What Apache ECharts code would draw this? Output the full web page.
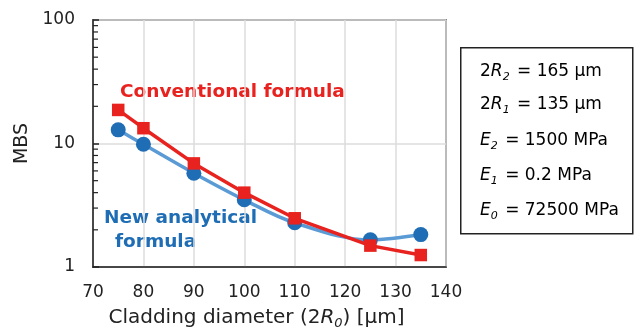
<!DOCTYPE html>
<html><head><meta charset="utf-8">
<script src="https://cdn.jsdelivr.net/npm/echarts@6/dist/echarts.min.js"></script>
<style>html,body{margin:0;padding:0;background:#fff}#c{width:637px;height:327px}</style>
</head><body><div id="c"></div>
<script>
const xCats = [75, 80, 90, 100, 110, 125, 135];
const newAnalytical = [12.9, 9.85, 5.75, 3.5, 2.28, 1.66, 1.83];
const conventional = [18.7, 13.3, 6.9, 4.0, 2.48, 1.49, 1.25];
const xTicks = [70, 80, 90, 100, 110, 120, 130, 140];
const yTicks = [1, 10, 100];
const yMinor = [2,3,4,5,6,7,8,9,20,30,40,50,60,70,80,90];
const params = [
  '{n|2}{i|R}{s|2}{n| = 165 μm}',
  '{n|2}{i|R}{s|1}{n| = 135 μm}',
  '{i|E}{s|2}{n| = 1500 MPa}',
  '{i|E}{s|1}{n| = 0.2 MPa}',
  '{i|E}{s|0}{n| = 72500 MPa}'
];
const F = 'DejaVu Sans, Verdana, sans-serif';
const TC = '#222';
const richBase = {
  n: {fontFamily: F, fontSize: 17, color: TC, lineHeight: 22},
  i: {fontFamily: F, fontSize: 17, color: TC, fontStyle: 'italic', lineHeight: 22},
  s: {fontFamily: F, fontSize: 11, color: TC, fontStyle: 'italic', lineHeight: 11, verticalAlign: 'bottom', padding: [0,2,0,0]}
};
const chart = echarts.init(document.getElementById('c'), null, {renderer: 'canvas'});
const lineYs = [72, 105, 141, 176, 211];
const graphics = [
  {type: 'rect', left: 460, top: 47, shape: {width: 172, height: 186}, style: {fill: '#fff', stroke: TC, lineWidth: 1.5}},
  {type: 'text', left: 120, top: 83, style: {text: 'Conventional formula', fill: '#e8221e', font: 'bold 18.5px ' + F}},
  {type: 'text', left: 104, top: 209, style: {text: 'New analytical', fill: '#1f6db5', font: 'bold 18.5px ' + F}},
  {type: 'text', left: 115, top: 233, style: {text: 'formula', fill: '#1f6db5', font: 'bold 18.5px ' + F}}
];
params.forEach((p, k) => {
  graphics.push({type: 'text', left: 480, top: lineYs[k] - 9, style: {text: p, rich: richBase}});
});
chart.setOption({
  animation: false,
  grid: {left: 93, right: 191, top: 20, bottom: 60, show: true, borderColor: TC, borderWidth: 1.5, containLabel: false, outerBoundsMode: 'none'},
  xAxis: {
    type: 'value', min: xTicks[0], max: xTicks[xTicks.length - 1], interval: 10,
    axisLine: {show: true, lineStyle: {color: TC, width: 1.5}},
    axisTick: {show: false},
    axisLabel: {color: TC, fontSize: 17, fontFamily: F, margin: 17},
    splitLine: {show: true, lineStyle: {color: '#dcdcdc', width: 1.5}},
    name: 'Cladding diameter (2{i|R}{s|0}) [μm]',
    nameLocation: 'middle', nameGap: 39,
    nameTextStyle: {color: TC, fontSize: 20, fontFamily: F, padding: [0, 26, 0, 0],
      rich: {i: {fontSize: 20, fontFamily: F, color: TC, fontStyle: 'italic', lineHeight: 24},
             s: {fontSize: 13, fontFamily: F, color: TC, fontStyle: 'italic', lineHeight: 13, verticalAlign: 'bottom'}}}
  },
  yAxis: {
    type: 'log', logBase: 10, min: yTicks[0], max: yTicks[yTicks.length - 1],
    axisLine: {show: true, lineStyle: {color: TC, width: 1.5}},
    axisTick: {show: true, inside: true, length: 6, lineStyle: {color: TC, width: 1.5}},
    axisLabel: {color: TC, fontSize: 17, fontFamily: F, margin: 18},
    splitLine: {show: true, lineStyle: {color: '#dcdcdc', width: 1.5}},
    name: 'MBS', nameLocation: 'middle', nameGap: 55,
    nameTextStyle: {color: TC, fontSize: 19, fontFamily: F}
  },
  graphic: graphics,
  series: [
    {
      type: 'custom', silent: true, z: 5,
      data: yMinor.map(v => [xTicks[0], v]),
      encode: {x: 0, y: 1},
      renderItem: function (prm, api) {
        const p = api.coord([api.value(0), api.value(1)]);
        return {type: 'line', shape: {x1: p[0], y1: p[1], x2: p[0] + 5, y2: p[1]}, style: {stroke: TC, lineWidth: 1.2}};
      }
    },
    {
      name: 'New analytical formula', type: 'line', smooth: 0.35,
      data: xCats.map((x, k) => [x, newAnalytical[k]]),
      symbol: 'circle', symbolSize: 15,
      lineStyle: {color: '#5b9bd5', width: 3.5},
      itemStyle: {color: '#1f6db5'}, z: 3
    },
    {
      name: 'Conventional formula', type: 'line', smooth: false,
      data: xCats.map((x, k) => [x, conventional[k]]),
      symbol: 'rect', symbolSize: 12.5,
      lineStyle: {color: '#e8221e', width: 3.5},
      itemStyle: {color: '#e8221e'}, z: 4
    }
  ]
});
</script></body></html>
